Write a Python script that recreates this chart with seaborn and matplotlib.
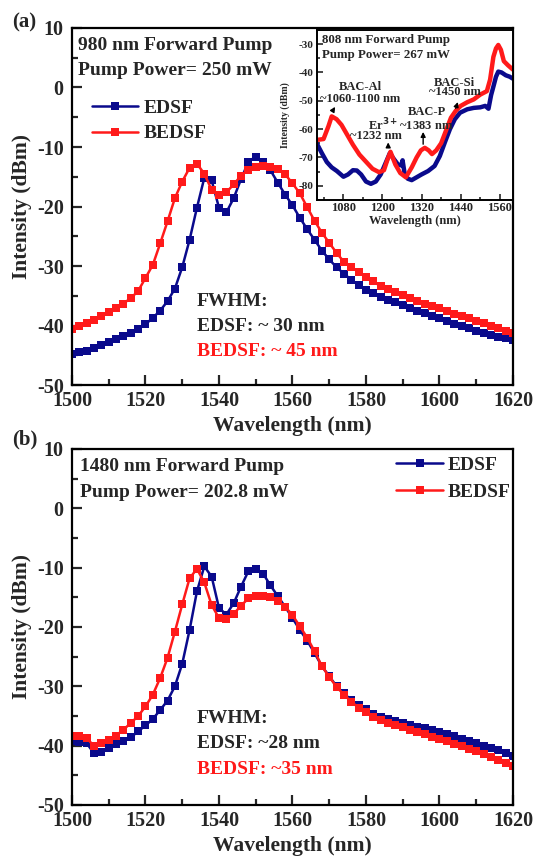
import numpy as np
import pandas as pd
import seaborn as sns
import matplotlib
matplotlib.use("Agg")
import matplotlib.pyplot as plt
from matplotlib.ticker import MultipleLocator

# wavelength grid of the OSA traces (nm)
wl = np.arange(1500, 1621, 2)

# (a) 980 nm forward pump, 250 mW
edsf_980 = [-44.8, -44.5, -44.2, -43.8, -43.3, -42.8, -42.3, -41.8, -41.2, -40.6,
            -39.8, -38.7, -37.5, -35.9, -33.8, -30.2, -25.6, -20.2, -15.2, -15.6,
            -20.2, -21.0, -18.6, -15.4, -12.5, -11.6, -12.5, -13.9, -16.0, -18.0,
            -19.8, -21.9, -23.8, -25.6, -27.4, -28.9, -30.2, -31.3, -32.3, -33.2,
            -34.0, -34.6, -35.2, -35.7, -36.1, -36.5, -37.0, -37.5, -37.9, -38.4,
            -38.8, -39.2, -39.7, -40.1, -40.5, -40.9, -41.3, -41.6, -41.9, -42.1, -42.4]
bedsf_980 = [-40.6, -40.1, -39.6, -39.1, -38.4, -37.7, -37.0, -36.3, -35.4, -34.2,
             -32.0, -29.8, -26.2, -22.5, -18.6, -15.8, -13.5, -12.8, -14.5, -17.2,
             -18.0, -17.6, -16.3, -14.8, -13.8, -13.3, -13.2, -13.3, -13.7, -14.6,
             -16.1, -17.8, -20.1, -22.4, -24.4, -26.1, -27.8, -29.3, -30.2, -31.0,
             -31.8, -32.6, -33.4, -33.9, -34.4, -34.8, -35.3, -35.8, -36.3, -36.7,
             -37.1, -37.5, -38.0, -38.4, -38.8, -39.2, -39.6, -40.1, -40.5, -40.9, -41.2]

# (b) 1480 nm forward pump, 202.8 mW
edsf_1480 = [-39.3, -39.4, -39.6, -41.3, -41.0, -40.4, -39.8, -39.3, -38.6, -37.6,
             -36.6, -35.5, -34.0, -32.4, -30.0, -26.2, -20.5, -14.0, -9.8, -11.5,
             -16.8, -17.9, -16.0, -13.2, -10.6, -10.2, -11.0, -13.0, -14.8, -16.6,
             -18.5, -20.5, -22.3, -24.4, -26.6, -28.3, -30.0, -31.2, -32.3, -33.2,
             -33.9, -34.6, -35.1, -35.5, -35.8, -36.2, -36.5, -36.8, -37.1, -37.4,
             -37.7, -38.1, -38.4, -38.8, -39.2, -39.6, -40.0, -40.4, -40.8, -41.2, -41.8]
bedsf_1480 = [-38.3, -38.4, -38.7, -40.1, -39.6, -39.0, -38.3, -37.3, -36.2, -35.0,
              -33.4, -31.4, -28.6, -25.2, -20.8, -16.2, -11.8, -10.2, -12.5, -16.3,
              -18.5, -18.7, -17.8, -16.4, -15.2, -14.8, -14.7, -15.0, -15.6, -16.6,
              -18.0, -19.9, -21.8, -24.1, -26.6, -28.4, -30.1, -31.4, -32.6, -33.6,
              -34.4, -35.1, -35.7, -36.1, -36.5, -36.9, -37.3, -37.7, -38.1, -38.5,
              -38.9, -39.3, -39.7, -40.1, -40.5, -40.9, -41.4, -41.9, -42.4, -42.9, -43.5]

# inset: 808 nm forward pump, 267 mW (broadband)
ins_bedsf_x = [1000, 1020, 1035, 1045, 1060, 1075, 1090, 1110, 1130, 1150, 1170, 1190,
               1205, 1215, 1225, 1240, 1255, 1272, 1290, 1305, 1318, 1330, 1342, 1352,
               1365, 1380, 1395, 1410, 1425, 1440, 1460, 1480, 1500, 1520, 1530, 1540,
               1548, 1555, 1563, 1572, 1585, 1600]
ins_bedsf_y = [-63.8, -63.5, -59.0, -55.5, -56.5, -58.5, -61.5, -65.5, -69.0, -71.5, -74.0, -75.2,
               -74.5, -71.0, -68.0, -72.5, -75.5, -77.0, -73.5, -70.0, -67.5, -66.6, -67.5, -68.8,
               -67.5, -65.0, -60.5, -56.0, -53.5, -51.8, -50.5, -49.5, -47.8, -46.6, -42.5, -34.5,
               -31.5, -30.3, -32.0, -36.0, -37.5, -39.0]
ins_edsf_x = [1000, 1015, 1030, 1045, 1061, 1081, 1095, 1110, 1122, 1135, 1150, 1165,
              1180, 1195, 1210, 1223, 1235, 1248, 1258, 1262, 1268, 1278, 1290, 1305,
              1320, 1340, 1360, 1376, 1392, 1407, 1422, 1438, 1460, 1480, 1500, 1515,
              1525, 1533, 1540, 1548, 1555, 1565, 1578, 1590, 1600]
ins_edsf_y = [-65.2, -68.5, -71.6, -73.5, -74.8, -76.8, -76.0, -74.5, -74.6, -76.0, -78.5, -79.3,
              -78.5, -76.0, -72.0, -68.5, -70.5, -72.5, -72.8, -71.0, -75.5, -77.5, -78.0, -77.0,
              -76.0, -74.8, -73.0, -69.5, -64.5, -60.0, -56.5, -54.2, -53.0, -52.5, -52.3, -51.8,
              -52.8, -48.0, -45.0, -41.5, -39.7, -40.0, -41.0, -41.5, -42.2]

blue = "#0a0a8c"
red = "#ff1a1a"

sns.set_style("ticks")
plt.rcParams["font.family"] = ["Liberation Serif", "DejaVu Serif"]
plt.rcParams["font.weight"] = "bold"
plt.rcParams["axes.labelweight"] = "bold"
plt.rcParams["axes.linewidth"] = 1.6
plt.rcParams["axes.unicode_minus"] = False
plt.rcParams["mathtext.default"] = "bf"

fig = plt.figure(figsize=(5.38, 8.56), dpi=100)
ax_a = fig.add_axes([0.1338, 0.5502, 0.8197, 0.4171])
ax_b = fig.add_axes([0.1338, 0.0596, 0.8197, 0.4159])


def style_main(ax):
    ax.set_xlim(1500, 1620)
    ax.set_ylim(-50, 10)
    ax.xaxis.set_major_locator(MultipleLocator(20))
    ax.xaxis.set_minor_locator(MultipleLocator(10))
    ax.yaxis.set_major_locator(MultipleLocator(10))
    ax.yaxis.set_minor_locator(MultipleLocator(5))
    ax.tick_params(which="both", direction="in", width=1.6, labelsize=14.5,
                   top=False, right=False)
    ax.tick_params(which="major", length=7)
    ax.tick_params(which="minor", length=4)
    ax.tick_params(axis="x", pad=4)
    ax.tick_params(axis="y", pad=6)
    for s in ax.spines.values():
        s.set_visible(True)
        s.set_color("black")
    ax.set_xlabel("Wavelength (nm)", fontsize=15.5)
    ax.set_ylabel("Intensity (dBm)", fontsize=15.5)
    ax.xaxis.set_label_coords(0.5, -0.088)
    ax.yaxis.set_label_coords(-0.09, 0.5)


def draw_pair(ax, y_edsf, y_bedsf):
    df = pd.DataFrame({"wl": wl, "EDSF": y_edsf, "BEDSF": y_bedsf})
    sns.lineplot(data=df, x="wl", y="EDSF", color=blue, marker="s", markersize=5.8,
                 markeredgewidth=0, linewidth=1.8, label="EDSF", ax=ax)
    sns.lineplot(data=df, x="wl", y="BEDSF", color=red, marker="s", markersize=5.8,
                 markeredgewidth=0, linewidth=1.8, label="BEDSF", ax=ax)


# panel (a)
draw_pair(ax_a, edsf_980, bedsf_980)
style_main(ax_a)
ax_a.legend(loc="upper left", bbox_to_anchor=(0.045, 0.80), frameon=False,
            fontsize=14, handlelength=2.4, handletextpad=0.25, labelspacing=0.4,
            borderpad=0, borderaxespad=0)
ax_a.text(0.014, 0.95, "980 nm Forward Pump", transform=ax_a.transAxes,
          fontsize=14, va="center", ha="left")
ax_a.text(0.014, 0.88, "Pump Power= 250 mW", transform=ax_a.transAxes,
          fontsize=14, va="center", ha="left")
ax_a.text(0.283, 0.235, "FWHM:", transform=ax_a.transAxes, fontsize=14, va="center")
ax_a.text(0.283, 0.165, "EDSF: ~ 30 nm", transform=ax_a.transAxes, fontsize=14, va="center")
ax_a.text(0.283, 0.095, "BEDSF: ~ 45 nm", transform=ax_a.transAxes, fontsize=14,
          va="center", color=red)

# panel (b)
draw_pair(ax_b, edsf_1480, bedsf_1480)
style_main(ax_b)
ax_b.legend(loc="upper right", bbox_to_anchor=(0.995, 0.98), frameon=False,
            fontsize=14, handlelength=2.4, handletextpad=0.25, labelspacing=0.5,
            borderpad=0, borderaxespad=0)
ax_b.text(0.018, 0.952, "1480 nm Forward Pump", transform=ax_b.transAxes,
          fontsize=14, va="center", ha="left")
ax_b.text(0.018, 0.879, "Pump Power= 202.8 mW", transform=ax_b.transAxes,
          fontsize=14, va="center", ha="left")
ax_b.text(0.283, 0.244, "FWHM:", transform=ax_b.transAxes, fontsize=14, va="center")
ax_b.text(0.283, 0.172, "EDSF: ~28 nm", transform=ax_b.transAxes, fontsize=14, va="center")
ax_b.text(0.283, 0.101, "BEDSF: ~35 nm", transform=ax_b.transAxes, fontsize=14,
          va="center", color=red)

fig.text(0.045, 0.974, "(a)", fontsize=15, ha="center", va="center")
fig.text(0.046, 0.487, "(b)", fontsize=15, ha="center", va="center")

# inset in (a)
ax_in = fig.add_axes([0.5892, 0.7664, 0.3643, 0.1986])
sns.lineplot(x=ins_edsf_x, y=ins_edsf_y, color=blue, linewidth=3.2, ax=ax_in)
sns.lineplot(x=ins_bedsf_x, y=ins_bedsf_y, color=red, linewidth=3.2, ax=ax_in)
ax_in.set_xlim(1000, 1600)
ax_in.set_ylim(-85, -25)
ax_in.set_xticks([1080, 1200, 1320, 1440, 1560])
ax_in.xaxis.set_minor_locator(MultipleLocator(60))
ax_in.set_yticks([-80, -70, -60, -50, -40, -30])
ax_in.yaxis.set_minor_locator(MultipleLocator(5))
ax_in.tick_params(which="both", direction="in", width=1.2, top=False, right=False)
ax_in.tick_params(which="major", length=4)
ax_in.tick_params(which="minor", length=2.5)
ax_in.tick_params(axis="x", labelsize=9, pad=1.5)
ax_in.tick_params(axis="y", labelsize=8, pad=2.5)
for s in ax_in.spines.values():
    s.set_visible(True)
    s.set_color("black")
    s.set_linewidth(1.4)
ax_in.set_xlabel("Wavelength (nm)", fontsize=9)
ax_in.set_ylabel("Intensity (dBm)", fontsize=7)
ax_in.xaxis.set_label_coords(0.5, -0.09)
ax_in.yaxis.set_label_coords(-0.14, 0.5)

ax_in.text(0.024, 0.94, "808 nm Forward Pump", transform=ax_in.transAxes,
           fontsize=9.3, va="center")
ax_in.text(0.024, 0.853, "Pump Power= 267 mW", transform=ax_in.transAxes,
           fontsize=9.3, va="center")
ax_in.text(1132, -45, "BAC-Al", fontsize=9, ha="center", va="center")
ax_in.text(1132, -49.2, "~1060-1100 nm", fontsize=9, ha="center", va="center")
ax_in.text(1181, -62.4, "~1232 nm", fontsize=9, ha="center", va="center")
ax_in.text(1285, -58.6, "Er$^{3+}$~1383 nm", fontsize=9, ha="center", va="center")
ax_in.text(1337, -54, "BAC-P", fontsize=9, ha="center", va="center")
ax_in.text(1422, -43.6, "BAC-Si", fontsize=9, ha="center", va="center")
ax_in.text(1422, -47, "~1450 nm", fontsize=9, ha="center", va="center")
arrow = dict(arrowstyle="-|>", color="black", lw=1.0, mutation_scale=7)
ax_in.annotate("", xy=(1060, -51.3), xytext=(1045, -54.1), arrowprops=arrow)
ax_in.annotate("", xy=(1218, -63.7), xytext=(1218, -67.5), arrowprops=arrow)
ax_in.annotate("", xy=(1325, -60), xytext=(1325, -66.3), arrowprops=arrow)
ax_in.annotate("", xy=(1434, -49.5), xytext=(1422, -53.6), arrowprops=arrow)

fig.savefig("out.png", dpi=100)
